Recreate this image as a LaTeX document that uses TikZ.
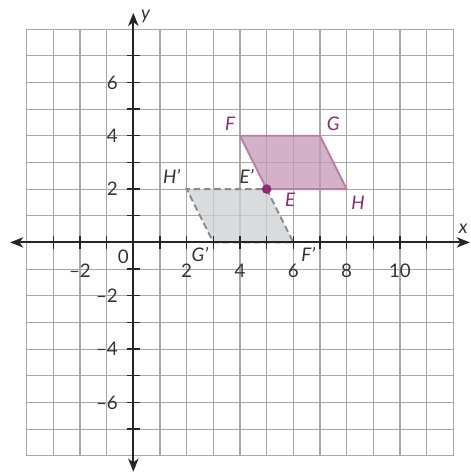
\documentclass[tikz,border=0pt]{standalone}
\usepackage{fontspec}
\setmainfont{Lato}
\usetikzlibrary{arrows.meta}

\definecolor{plum}{HTML}{8E2A75}
\definecolor{plumfill}{HTML}{C497B7}
\definecolor{plumline}{HTML}{B57FA6}
\definecolor{shade}{HTML}{CDCFD1}
\definecolor{dashgray}{HTML}{8A8A8A}
\definecolor{gridgray}{HTML}{A8A8A8}

\begin{document}
\begin{tikzpicture}[
    x=0.5cm, y=0.5cm,
    every node/.style={font=\fontsize{10}{12}\selectfont, inner sep=1pt, text=black!80},
    gridline/.style={gridgray, line width=0.6pt, step=0.5cm},
    axis/.style={black!85, line width=1pt,
        {Stealth[length=7pt,width=5.5pt,inset=2pt]}-{Stealth[length=7pt,width=5.5pt,inset=2pt]}},
    tickmark/.style={black!85, line width=0.8pt},
    ynum/.style={anchor=east},
    vlabel/.style={text=plum, font=\fontsize{10}{12}\selectfont\itshape}, % Beschriftung der Ecken
    plabel/.style={text=black!80, font=\fontsize{10}{12}\selectfont\itshape},
    preimage/.style={fill=plumfill, fill opacity=0.75, draw=plumline, line width=1pt, line join=round},
    image/.style={fill=shade, fill opacity=0.75, draw=dashgray, line width=1pt, dash pattern=on 3.5pt off 2pt}
]
\useasboundingbox (-5,-8.61) rectangle (12.66,9.09);

\draw[gridline] (-4,-8) grid (12,8);

% Ecken
\coordinate (E) at (5,2);
\coordinate (F) at (4,4);
\coordinate (G) at (7,4);
\coordinate (H) at (8,2);
\coordinate (Ep) at (5,2);
\coordinate (Fp) at (6,0);
\coordinate (Gp) at (3,0);
\coordinate (Hp) at (2,2);

\filldraw[image] (Ep) -- (Fp) -- (Gp) -- (Hp) -- cycle;
\filldraw[preimage] (E) -- (F) -- (G) -- (H) -- cycle;

% Achsen
\coordinate (xl) at (-4.62,0);
\coordinate (xr) at (12.62,0);
\coordinate (yb) at (0,-8.6);
\coordinate (yt) at (0,8.61);
\draw[axis] (xl) -- (xr);
\draw[axis] (yb) -- (yt);
\foreach \i in {-3,...,11}
    \draw[tickmark] (\i,-0.25) -- (\i,0.25);
\foreach \j in {-7,...,7}
    \draw[tickmark] (-0.25,\j) -- (0.25,\j);

\node[plabel] (xlab) at (12.37,0.5) {x};
\node[plabel] (ylab) at (0.46,8.46) {y};
\node (o) at (-0.38,-0.55) {0};
\foreach \i/\t in {-2/–2, 2/2, 4/4, 6/6, 8/8, 10/10}
    \node (xn\i) at (\i,-1.05) {\t};
\foreach \j/\t in {6/6, 4/4, 2/2, -2/–2, -4/–4, -6/–6}
    \node[ynum] (yn\j) at (-0.5,\j) {\t};

\fill[plum] (E) circle (0.18);

\node[vlabel] (lF) at (3.63,4.46) {F};
\node[vlabel] (lG) at (7.5,4.43) {G};
\node[vlabel] (lE) at (5.88,1.59) {E};
\node[vlabel] (lH) at (8.43,1.47) {H};
\node[plabel] (lHp) at (1.44,2.46) {H’};
\node[plabel] (lEp) at (4.25,2.46) {E’};
\node[plabel] (lGp) at (2.5,-0.44) {G’};
\node[plabel] (lFp) at (6.56,-0.44) {F’};
\end{tikzpicture}
\end{document}
